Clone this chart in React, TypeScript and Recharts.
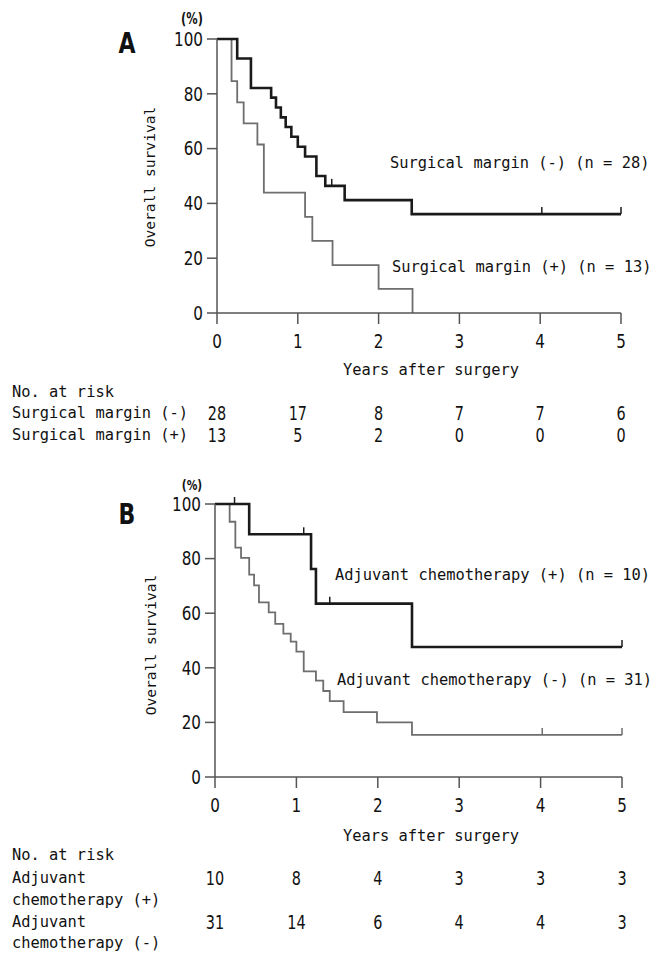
import { LineChart, Line, XAxis, YAxis } from "recharts";

const years = [0, 1, 2, 3, 4, 5];
const pctTicks = [0, 20, 40, 60, 80, 100];

// Panel A: surgical margin
const timesANeg = [0, 0.25, 0.42, 0.67, 0.73, 0.79, 0.85, 0.92, 1.0, 1.09, 1.23, 1.34, 1.58, 2.41, 5];
const survANeg = [100, 92.9, 82.1, 78.6, 75.0, 71.4, 67.9, 64.3, 60.7, 57.1, 50.0, 46.4, 41.2, 36.1, 36.1];
const censorANeg = [1.42, 4.02, 5];

const timesAPos = [0, 0.18, 0.25, 0.33, 0.5, 0.58, 1.09, 1.18, 1.43, 2.0, 2.42];
const survAPos = [100, 84.6, 76.9, 69.2, 61.5, 43.9, 35.1, 26.3, 17.5, 8.8, 0];
const censorAPos: number[] = [];

const riskANeg = [28, 17, 8, 7, 7, 6];
const riskAPos = [13, 5, 2, 0, 0, 0];

// Panel B: adjuvant chemotherapy
const timesBPos = [0, 0.42, 1.18, 1.24, 2.42, 5];
const survBPos = [100, 88.9, 76.2, 63.5, 47.6, 47.6];
const censorBPos = [0.24, 1.09, 1.41, 5];

const timesBNeg = [0, 0.18, 0.25, 0.32, 0.42, 0.48, 0.54, 0.66, 0.74, 0.84, 0.93, 1.0, 1.09, 1.24, 1.33, 1.41, 1.58, 1.99, 2.42, 5];
const survBNeg = [100, 93.5, 84.0, 80.3, 74.1, 70.2, 64.0, 60.3, 56.1, 52.5, 49.6, 45.9, 38.7, 35.3, 31.5, 27.8, 23.8, 20.0, 15.4, 15.4];
const censorBNeg = [4.02, 5];

const riskBPos = [10, 8, 4, 3, 3, 3];
const riskBNeg = [31, 14, 6, 4, 4, 3];

const NUM_FONT = "'DejaVu Sans', 'Liberation Sans', sans-serif";
const MONO = "'DejaVu Sans Mono', 'Liberation Mono', monospace";
const AXIS = "#555";
const DARK = "#1a1a1a";
const GRAY = "#6e6e6e";

type Pt = { t: number; s: number; c?: boolean };

// step value at time t (Kaplan-Meier is constant between events)
function kmAt(times: number[], surv: number[], t: number) {
  let v = surv[0];
  for (let i = 0; i < times.length; i++) if (times[i] <= t) v = surv[i];
  return v;
}

function buildCurve(times: number[], surv: number[], censors: number[]): Pt[] {
  const pts: Pt[] = times.map((t, i) => ({ t, s: surv[i] }));
  censors.forEach((t) => {
    const hit = pts.find((p) => p.t === t);
    if (hit) hit.c = true;
    else pts.push({ t, s: kmAt(times, surv, t), c: true });
  });
  return pts.sort((a, b) => a.t - b.t);
}

function censorDot(color: string, width: number) {
  return (props: any) => {
    const { cx, cy, payload, index } = props;
    if (!payload || !payload.c) return <g key={`n-${index}`} />;
    return <line key={`c-${index}`} x1={cx} x2={cx} y1={cy} y2={cy - 7} stroke={color} strokeWidth={width} />;
  };
}

// condensed look of the original's tall narrow numerals
function Narrow({ x, y, size, anchor = "middle", bold = false, children }: any) {
  return (
    <text
      transform={`translate(${x},${y}) scale(0.76,1)`}
      textAnchor={anchor}
      dominantBaseline="central"
      fontFamily={NUM_FONT}
      fontSize={size}
      fontWeight={bold ? "bold" : "normal"}
      fill="#111"
    >
      {children}
    </text>
  );
}

function makeXTick(rows: number[][], rowDy: number[]) {
  return (props: any) => {
    const { x, y, payload } = props;
    const i = years.indexOf(payload.value);
    return (
      <g>
        <Narrow x={x} y={y + 17} size={20}>{payload.value}</Narrow>
        {rows.map((r, k) => (
          <Narrow key={k} x={x} y={y + rowDy[k]} size={19}>{r[i]}</Narrow>
        ))}
      </g>
    );
  };
}

const yTick = (props: any) => {
  const { x, y, payload } = props;
  return <Narrow x={x} y={y} size={20} anchor="end">{payload.value}</Narrow>;
};

const curveANeg = buildCurve(timesANeg, survANeg, censorANeg);
const curveAPos = buildCurve(timesAPos, survAPos, censorAPos);
const curveBPos = buildCurve(timesBPos, survBPos, censorBPos);
const curveBNeg = buildCurve(timesBNeg, survBNeg, censorBNeg);

const txt = { fontFamily: MONO, fontSize: 15.4, fill: "#111" };

export default function App() {
  return (
    <div style={{ position: "absolute", left: 0, top: 0, width: 667, height: 954, background: "#fff" }}>
      <div style={{ position: "absolute", left: 0, top: 0 }}>
        <LineChart width={667} height={460} margin={{ top: 39, right: 46, bottom: 7, left: 157 }}>
          <XAxis
            dataKey="t"
            type="number"
            domain={[0, 5]}
            ticks={years}
            height={140}
            tickSize={11}
            tickMargin={0}
            stroke={AXIS}
            strokeWidth={1.5}
            tick={makeXTick([riskANeg, riskAPos], [89, 111])}
          />
          <YAxis
            type="number"
            domain={[0, 100]}
            ticks={pctTicks}
            width={60}
            tickSize={10}
            tickMargin={4}
            stroke={AXIS}
            strokeWidth={1.5}
            tick={yTick}
          />
          <Line data={curveAPos} dataKey="s" type="stepAfter" stroke={GRAY} strokeWidth={1.8}
            dot={censorDot(GRAY, 1.5)} activeDot={false} isAnimationActive={false} />
          <Line data={curveANeg} dataKey="s" type="stepAfter" stroke={DARK} strokeWidth={2.6}
            dot={censorDot(DARK, 1.5)} activeDot={false} isAnimationActive={false} />
        </LineChart>
      </div>
      <div style={{ position: "absolute", left: 0, top: 460 }}>
        <LineChart width={667} height={494} margin={{ top: 44, right: 45, bottom: 7, left: 155 }}>
          <XAxis
            dataKey="t"
            type="number"
            domain={[0, 5]}
            ticks={years}
            height={170}
            tickSize={11}
            tickMargin={0}
            stroke={AXIS}
            strokeWidth={1.5}
            tick={makeXTick([riskBPos, riskBNeg], [90, 134])}
          />
          <YAxis
            type="number"
            domain={[0, 100]}
            ticks={pctTicks}
            width={60}
            tickSize={10}
            tickMargin={4}
            stroke={AXIS}
            strokeWidth={1.5}
            tick={yTick}
          />
          <Line data={curveBNeg} dataKey="s" type="stepAfter" stroke={GRAY} strokeWidth={1.8}
            dot={censorDot(GRAY, 1.5)} activeDot={false} isAnimationActive={false} />
          <Line data={curveBPos} dataKey="s" type="stepAfter" stroke={DARK} strokeWidth={2.6}
            dot={censorDot(DARK, 1.5)} activeDot={false} isAnimationActive={false} />
        </LineChart>
      </div>
      <svg width={667} height={954} style={{ position: "absolute", left: 0, top: 0, pointerEvents: "none" }}>
        {/* panel A */}
        <Narrow x={127} y={43} size={29} bold>A</Narrow>
        <Narrow x={192} y={19} size={15} bold>(%)</Narrow>
        <text transform="translate(149,177) rotate(-90)" textAnchor="middle" dominantBaseline="central" {...txt} fontSize={14.6}>Overall survival</text>
        <text x={390} y={163} dominantBaseline="central" {...txt}>Surgical margin (-) (n = 28)</text>
        <text x={392} y={267} dominantBaseline="central" {...txt}>Surgical margin (+) (n = 13)</text>
        <text x={431} y={370} textAnchor="middle" dominantBaseline="central" {...txt}>Years after surgery</text>
        <text x={12} y={392} dominantBaseline="central" {...txt}>No. at risk</text>
        <text x={12} y={413} dominantBaseline="central" {...txt}>Surgical margin (-)</text>
        <text x={12} y={435} dominantBaseline="central" {...txt}>Surgical margin (+)</text>
        {/* panel B */}
        <Narrow x={127} y={514} size={29} bold>B</Narrow>
        <Narrow x={192} y={485} size={14} bold>(%)</Narrow>
        <text transform="translate(150,645) rotate(-90)" textAnchor="middle" dominantBaseline="central" {...txt} fontSize={14.6}>Overall survival</text>
        <text x={335} y={575} dominantBaseline="central" {...txt}>Adjuvant chemotherapy (+) (n = 10)</text>
        <text x={337} y={680} dominantBaseline="central" {...txt}>Adjuvant chemotherapy (-) (n = 31)</text>
        <text x={431} y={836} textAnchor="middle" dominantBaseline="central" {...txt}>Years after surgery</text>
        <text x={12} y={855} dominantBaseline="central" {...txt}>No. at risk</text>
        <text x={12} y={878} dominantBaseline="central" {...txt}>Adjuvant</text>
        <text x={12} y={900} dominantBaseline="central" {...txt}>chemotherapy (+)</text>
        <text x={12} y={922} dominantBaseline="central" {...txt}>Adjuvant</text>
        <text x={12} y={943} dominantBaseline="central" {...txt}>chemotherapy (-)</text>
      </svg>
    </div>
  );
}
